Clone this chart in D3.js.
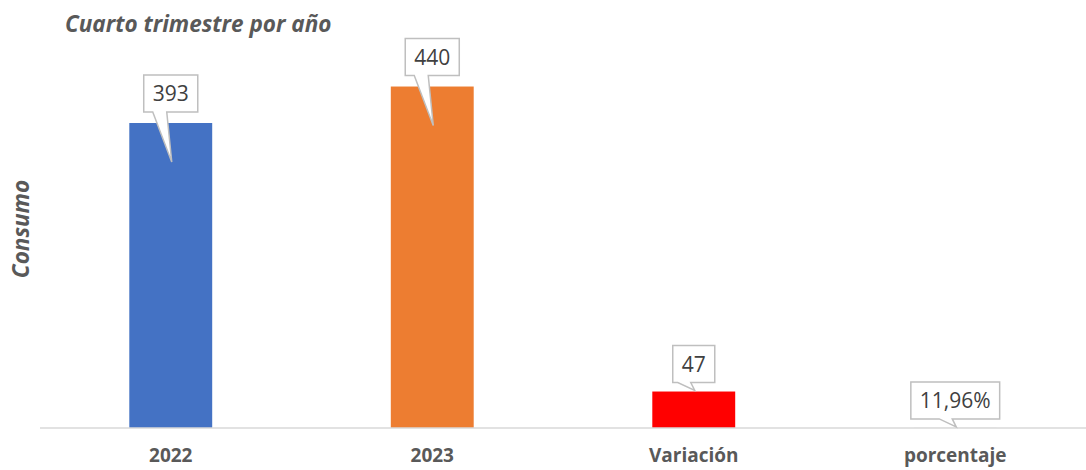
<!DOCTYPE html>
<html><head><meta charset="utf-8">
<script src="https://cdn.jsdelivr.net/npm/d3@7"></script>
<style>body{margin:0;background:#fff}svg{display:block}</style>
</head><body>
<svg id="c" width="1086" height="470"></svg>
<script>
const categories = ["2022", "2023", "Variación", "porcentaje"];
const values = [393, 440, 47, 0.1196];
const labels = ["393", "440", "47", "11,96%"];
const colors = ["#4472C4", "#ED7D31", "#FF0000", "#A5A5A5"];
const title = "Cuarto trimestre por año";
const yTitle = "Consumo";

const svg = d3.select("#c");
const W = 1086;
const left = 40;
const baseY = 428;
const font = "'Open Sans', sans-serif";

const x = d3.scaleBand().domain(categories).range([left, W]).paddingInner(0.683).paddingOuter(0.3415);
const y = d3.scaleLinear().domain([0, 393]).range([baseY, 123]);

// bars
svg.selectAll("rect.bar").data(categories).join("rect")
  .attr("class", "bar")
  .attr("x", d => x(d))
  .attr("width", x.bandwidth())
  .attr("y", (d, i) => y(values[i]))
  .attr("height", (d, i) => baseY - y(values[i]))
  .attr("fill", (d, i) => colors[i]);

// axis
const ax = svg.append("g").attr("transform", `translate(0,${baseY})`)
  .call(d3.axisBottom(x).tickSize(0).tickPadding(21));
ax.select(".domain").attr("stroke", "#d9d9d9").attr("stroke-width", 1.3)
  .attr("d", `M${left},0H${W}`);
ax.selectAll("text").attr("font-family", font).attr("font-weight", "bold")
  .attr("font-size", 19).attr("fill", "#595959").attr("dy", "0.71em");

// callouts
const boxH = 37;
const cg = svg.append("g");
values.forEach((v, i) => {
  const cx = x(categories[i]) + x.bandwidth() / 2;
  const top = y(v);
  const big = (baseY - top) > 100;
  const g = cg.append("g");
  const path = g.append("path");
  const t = g.append("text").text(labels[i])
    .attr("font-family", font).attr("font-size", 21).attr("fill", "#404040")
    .attr("text-anchor", "middle");
  const tw = t.node().getComputedTextLength();
  const bw = tw + 18;
  const bBot = top - (big ? 11 : 9);
  const bTop = bBot - boxH;
  const l = cx - bw / 2, r = cx + bw / 2;
  let p;
  if (big) {
    p = `M${l},${bTop}H${r}V${bBot}H${cx - 4}L${cx + 1},${top + 39}L${cx - 18},${bBot}H${l}Z`;
  } else {
    p = `M${l},${bTop}H${r}V${bBot}H${cx - 3}L${cx + 1},${top - 1}L${cx - 16},${bBot}H${l}Z`;
  }
  path.attr("d", p)
    .attr("fill", "#fff").attr("stroke", "#bfbfbf").attr("stroke-width", 1.5)
    .attr("stroke-linejoin", "miter");
  t.attr("x", cx).attr("y", bTop + boxH / 2 + 7.5);
});

// titles
svg.append("text").attr("x", 65).attr("y", 32).text(title)
  .attr("font-family", font).attr("font-weight", "bold").attr("font-style", "italic")
  .attr("font-size", 22.5).attr("fill", "#595959");
svg.append("text").attr("transform", "translate(29,229) rotate(-90)")
  .attr("text-anchor", "middle").text(yTitle)
  .attr("font-family", font).attr("font-weight", "bold").attr("font-style", "italic")
  .attr("font-size", 22.5).attr("fill", "#595959");
</script>
</body></html>
